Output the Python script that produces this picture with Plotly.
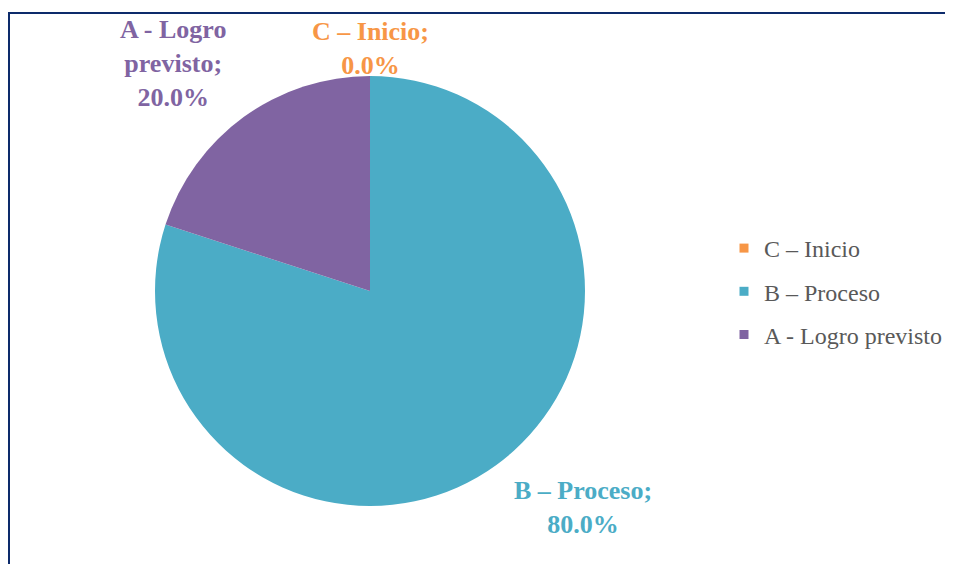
import plotly.graph_objects as go

categories = ["C – Inicio", "B – Proceso", "A - Logro previsto"]
values = [0.0, 80.0, 20.0]
colors = ["#F79646", "#4BACC6", "#8064A2"]
label_lines = ["C – Inicio;", "B – Proceso;", "A - Logro<br>previsto;"]

# page body has an 8px margin: figure size = window - 8, coords shifted by 8
OFF = 8
W, H = 953 - OFF, 564 - OFF
cx, cy, r = 370 - OFF, 291 - OFF, 215

fig = go.Figure()
fig.add_trace(go.Pie(
    labels=categories, values=values, sort=False, direction="clockwise",
    rotation=0, marker=dict(colors=colors, line=dict(width=0)),
    textinfo="none", showlegend=False, hoverinfo="label+percent",
    domain=dict(x=[(cx - r) / W, (cx + r) / W], y=[1 - (cy + r) / H, 1 - (cy - r) / H]),
))

# legend entries
for i, (c, col) in enumerate(zip(categories, colors)):
    fig.add_trace(go.Scatter(
        x=[None], y=[None], mode="markers", name=c, legendgroup=f"g{i}",
        marker=dict(symbol="square", size=9, color=col),
    ))

# data labels (positions in window pixels)
label_pos = [(370, 48), (583, 507), (173, 63)]
annotations = []
for txt, v, col, (px, py) in zip(label_lines, values, colors, label_pos):
    annotations.append(dict(
        x=(px - OFF) / W, y=1 - (py - OFF) / H, xref="paper", yref="paper",
        text=f"<b>{txt}<br>{v:.1f}%</b>", showarrow=False,
        font=dict(family="Liberation Serif", size=26, color=col),
        xanchor="center", yanchor="middle", align="center",
    ))

fig.update_layout(
    width=W, height=H, margin=dict(l=0, r=0, t=0, b=0),
    paper_bgcolor="white", plot_bgcolor="white",
    xaxis=dict(visible=False), yaxis=dict(visible=False),
    annotations=annotations,
    legend=dict(x=(724 - OFF) / W, y=1 - (226 - OFF) / H, xanchor="left", yanchor="top",
                font=dict(family="Liberation Serif", size=24, color="#595959"),
                tracegroupgap=9, itemwidth=30, bgcolor="rgba(0,0,0,0)"),
    shapes=[dict(type="rect", xref="paper", yref="paper",
                 x0=1 / W, x1=1.01, y0=-0.01, y1=1 - 5 / H,
                 line=dict(color="#0D2B6B", width=2))],
)

fig.write_html("out.html")
